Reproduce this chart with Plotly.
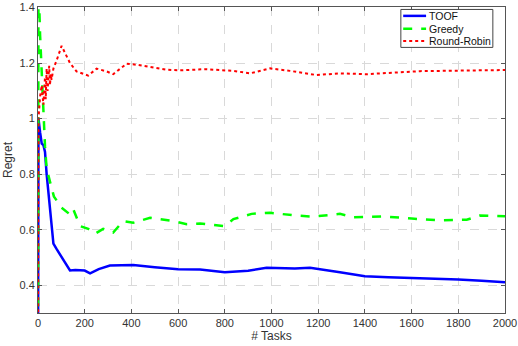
import plotly.graph_objects as go

# values
toof_x = [0, 2, 9, 16, 23, 30, 37, 44, 51, 58, 66, 80, 101, 116, 137, 160, 200, 223, 260, 308,
          408, 500, 600, 694, 800, 900, 979, 1100, 1165, 1293, 1400, 1500, 1600, 1700, 1800, 1900, 2000]
toof_y = [0.0, 1.0, 0.95, 0.91, 0.905, 0.88, 0.80, 0.74, 0.69, 0.61, 0.55, 0.53, 0.50, 0.48, 0.453,
          0.455, 0.453, 0.443, 0.458, 0.471, 0.473, 0.465, 0.458, 0.457, 0.447, 0.452, 0.463, 0.460,
          0.463, 0.447, 0.432, 0.429, 0.427, 0.424, 0.421, 0.416, 0.411]

greedy_x = [0, 2, 9, 16, 23, 30, 37, 44, 51, 68, 101, 137, 151, 180, 215, 244, 279, 322, 365, 408,
            480, 580, 637, 694, 800, 837, 915, 994, 1093, 1179, 1293, 1350, 1478, 1600, 1722, 1836,
            1893, 2000]
greedy_y = [0.0, 1.5, 1.30, 1.15, 1.0, 0.90, 0.82, 0.80, 0.774, 0.72, 0.679, 0.655, 0.674, 0.613,
            0.603, 0.585, 0.603, 0.59, 0.631, 0.625, 0.643, 0.631, 0.62, 0.622, 0.613, 0.638, 0.657,
            0.661, 0.652, 0.647, 0.657, 0.645, 0.648, 0.64, 0.634, 0.636, 0.651, 0.648]

rr_x = [0, 2, 9, 16, 23, 30, 33, 37, 41, 44, 48, 51, 55, 58, 66, 80, 101, 137, 165, 215, 251, 294,
        322, 380, 423, 551, 608, 715, 837, 908, 994, 1079, 1193, 1293, 1408, 1636, 2000]
rr_y = [0.0, 1.0, 1.08, 1.12, 1.05, 1.15, 1.07, 1.18, 1.10, 1.14, 1.19, 1.12, 1.16, 1.14, 1.18, 1.21,
        1.262, 1.20, 1.17, 1.155, 1.18, 1.17, 1.16, 1.198, 1.194, 1.176, 1.174, 1.178, 1.172, 1.163,
        1.181, 1.172, 1.157, 1.163, 1.16, 1.171, 1.175]

series_names = ['TOOF', 'Greedy', 'Round-Robin']
series_colors = ['#0000ff', '#00ff00', '#ff0000']
series_dash = ['solid', 'dash', 'dot']
series_width = [2.5, 2.5, 2]

x_ticks = list(range(0, 2001, 200))
y_ticks = [0.4, 0.6, 0.8, 1.0, 1.2, 1.4]
y_tick_text = ["0.4", "0.6", "0.8", "1", "1.2", "1.4"]

fig = go.Figure()
for (xs, ys), name, col, dash, w in zip([(toof_x, toof_y), (greedy_x, greedy_y), (rr_x, rr_y)],
                                       series_names, series_colors, series_dash, series_width):
    fig.add_scatter(x=xs, y=ys, mode='lines', name=name,
                    line=dict(color=col, width=w, dash=dash))

# matlab-style legend box, drawn in paper coordinates
leg_x0, leg_x1, leg_y0, leg_y1 = 0.777, 0.974, 0.868, 0.992
fig.add_shape(type='rect', xref='paper', yref='paper', x0=leg_x0, x1=leg_x1, y0=leg_y0, y1=leg_y1,
              line=dict(color='#444444', width=1), fillcolor='white', layer='above')
row_y = [0.971, 0.929, 0.889]
for yy, name, col, dash, w in zip(row_y, series_names, series_colors, series_dash, series_width):
    fig.add_shape(type='line', xref='paper', yref='paper', x0=0.782, x1=0.831, y0=yy, y1=yy,
                  line=dict(color=col, width=w, dash=dash), layer='above')
    fig.add_annotation(xref='paper', yref='paper', x=0.834, y=yy, text=name, showarrow=False,
                       xanchor='left', yanchor='middle', font=dict(size=10.5, color='#111111'))

axis_common = dict(showline=True, linecolor='#555555', linewidth=1, mirror='ticks',
                   ticks='inside', ticklen=4, tickcolor='#555555',
                   showgrid=True, gridcolor='#d9d9d9', griddash='dash', gridwidth=1,
                   zeroline=False, ticklabeloverflow='allow',
                   tickfont=dict(size=11, color='#333333'))

fig.update_layout(
    width=518, height=346,
    margin=dict(l=38, r=13, t=7, b=33, autoexpand=False),
    paper_bgcolor='white', plot_bgcolor='white',
    font=dict(family='Liberation Sans, Arial, sans-serif', color='#333333'),
    xaxis=dict(range=[0, 2000], tickvals=x_ticks, automargin=False,
               title=dict(text='# Tasks', font=dict(size=12), standoff=2), **axis_common),
    yaxis=dict(range=[0.3, 1.402], tickvals=y_ticks, ticktext=y_tick_text, automargin=False,
               title=dict(text='Regret', font=dict(size=12), standoff=4), **axis_common),
    showlegend=False,
)

fig.write_html("out.html", config={'displayModeBar': False},
               post_script="document.body.style.margin='0';")
